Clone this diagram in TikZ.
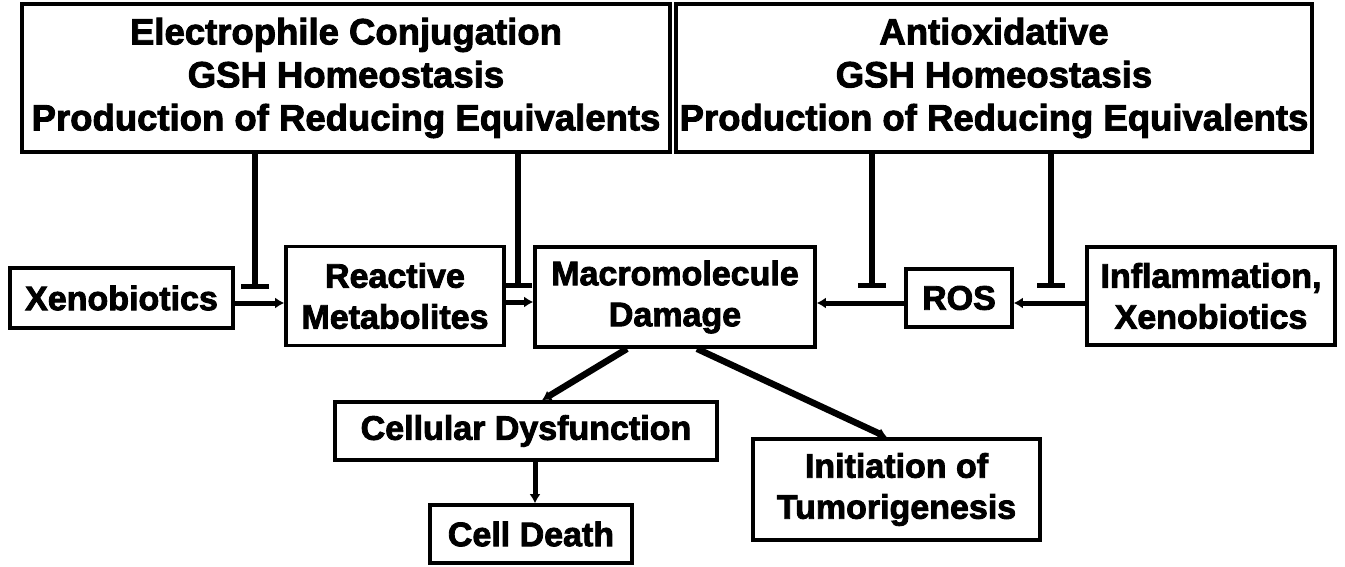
\documentclass[tikz,border=0pt]{standalone}
\usepackage{fontspec}
\setmainfont{Liberation Sans}
\newfontfamily\heavyfont{Liberation Sans Bold}[FakeBold=2.5]
\usetikzlibrary{arrows.meta,calc}
\begin{document}
\begin{tikzpicture}[x=1pt,y=-1pt,
  box/.style={draw=black,line width=3.6pt,fill=white,align=center,inner sep=0pt,
    font=\heavyfont\fontsize{34}{41}\selectfont},
  topbox/.style={box,font=\heavyfont\fontsize{36.5}{43}\selectfont},
  arr/.style={line width=5pt,-{Latex[length=9pt,width=11pt]}},
  darr/.style={arr,line width=6.5pt},
  inh/.style={line width=5.5pt,-{Bar[width=28pt]}}]
\useasboundingbox[fill=white] (0,0) rectangle (1345,567);
% top boxes
\node[topbox,minimum width=648pt,minimum height=148pt] (top1) at (346,78)
  {Electrophile Conjugation\\GSH Homeostasis\\Production of Reducing Equivalents};
\node[topbox,minimum width=636pt,minimum height=148pt] (top2) at (994,78)
  {Antioxidative\\GSH Homeostasis\\Production of Reducing Equivalents};
% middle row
\node[box,minimum width=223pt,minimum height=60pt] (xeno) at (121.5,298) {Xenobiotics};
\node[box,minimum width=218pt,minimum height=99pt] (react) at (395,296) {Reactive\\Metabolites};
\node[box,minimum width=280pt,minimum height=100pt] (macro) at (675,297) {Macromolecule\\Damage};
\node[box,minimum width=106pt,minimum height=58pt] (ros) at (959,298) {ROS};
\node[box,minimum width=248pt,minimum height=98pt] (infl) at (1211,296) {Inflammation,\\Xenobiotics};
% bottom
\node[box,minimum width=382pt,minimum height=58pt] (cell) at (526,431) {Cellular Dysfunction};
\node[box,minimum width=202pt,minimum height=58pt] (death) at (531,534) {Cell Death};
\node[box,minimum width=287pt,minimum height=101pt] (init) at (896.5,489.5) {Initiation of\\Tumorigenesis};
% inhibition coordinates
\coordinate (i1) at (255,289);
\coordinate (i2) at (518,288);
\coordinate (i3) at (872,288);
\coordinate (i4) at (1051,288);
\draw[inh] (top1.south -| i1) -- (i1);
\draw[inh] (top1.south -| i2) -- (i2);
\draw[inh] (top2.south -| i3) -- (i3);
\draw[inh] (top2.south -| i4) -- (i4);
% arrows
\draw[arr] ([yshift=-5pt]xeno.east) -- ([yshift=-5pt]xeno.east -| react.west);
\draw[arr] ([yshift=-6pt]react.east) -- ([yshift=-6pt]react.east -| macro.west);
\draw[arr] ([yshift=-5pt]ros.west) -- ([yshift=-5pt]ros.west -| macro.east);
\draw[arr] ([yshift=-7pt]infl.west) -- ([yshift=-7pt]infl.west -| ros.east);
\draw[darr] ($(macro.south)+(-48,0)$) -- ($(cell.north)+(16,0)$);
\draw[darr] ($(macro.south)+(22,0)$) -- ($(init.north)+(-9.5,0)$);
\draw[arr] ($(cell.south)+(9,0)$) -- ($(death.north)+(4,0)$);
\end{tikzpicture}
\end{document}
